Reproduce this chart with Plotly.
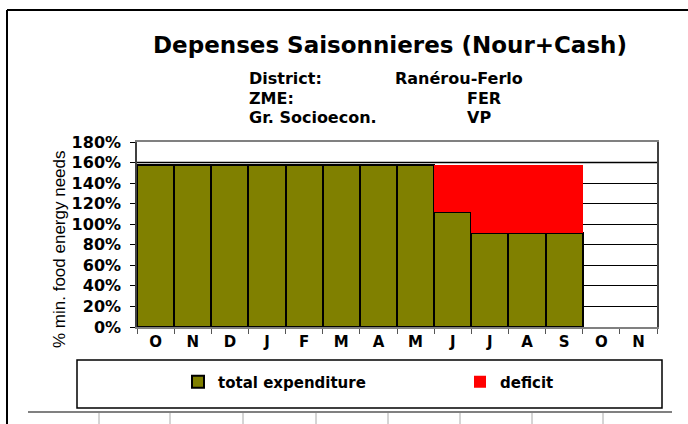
import plotly.graph_objects as go

months = ["O", "N", "D", "J", "F", "M", "A", "M", "J", "J", "A", "S", "O", "N"]
total_expenditure = [158, 158, 158, 158, 158, 158, 158, 158, 112, 91, 91, 91, None, None]
deficit = [0, 0, 0, 0, 0, 0, 0, 0, 46, 67, 67, 67, None, None]
y_ticks = [0, 20, 40, 60, 80, 100, 120, 140, 160, 180]

W, H = 688, 424
L, R, T, B = 137, 657, 142, 327
FONT = "DejaVu Sans, Liberation Sans, Arial, sans-serif"
FONT2 = "Liberation Sans, Arial, sans-serif"

def px(x):
    return (x - L) / (R - L)

def py(y):
    return (B - y) / (B - T)

xs = list(range(len(months)))

fig = go.Figure()
fig.add_trace(go.Bar(
    x=xs, y=total_expenditure, name="<b>total expenditure</b>", legend="legend", showlegend=True,
    marker=dict(color="#808000", line=dict(color="black", width=2)),
))
fig.add_trace(go.Bar(
    x=xs, y=deficit, name="<b>deficit</b>", legend="legend2", showlegend=True,
    marker=dict(color="#FF0000", line=dict(color="#FF0000", width=0)),
))

shapes = []
shapes.append(dict(type="line", xref="paper", yref="y", x0=0, x1=1, y0=160, y1=160,
                   line=dict(color="#808080", width=2), layer="below"))
shapes.append(dict(type="line", xref="paper", yref="paper", x0=px(7), x1=px(7), y0=py(10), y1=py(424),
                   line=dict(color="black", width=2)))
shapes.append(dict(type="line", xref="paper", yref="paper", x0=px(7), x1=px(688), y0=py(10), y1=py(10),
                   line=dict(color="black", width=2)))
shapes.append(dict(type="rect", xref="paper", yref="paper", x0=px(77), x1=px(662), y0=py(360), y1=py(408),
                   line=dict(color="black", width=1.5), fillcolor="rgba(0,0,0,0)"))
shapes.append(dict(type="line", xref="paper", yref="paper", x0=px(28), x1=px(672), y0=py(412), y1=py(412),
                   line=dict(color="#808080", width=2)))
for tx in [99, 170, 243, 316, 388, 460, 532, 603]:
    shapes.append(dict(type="line", xref="paper", yref="paper", x0=px(tx), x1=px(tx), y0=py(413), y1=py(424),
                       line=dict(color="#aaaaaa", width=1)))

annotations = []
def txt(s, x, y, size=16, xanchor="left"):
    annotations.append(dict(text="<b>" + s + "</b>", x=px(x), y=py(y), xref="paper", yref="paper",
                            showarrow=False, xanchor=xanchor, yanchor="middle",
                            font=dict(family=FONT, size=size, color="black")))

txt("District:", 247, 79)
txt("Ranérou-Ferlo", 393, 79)
txt("ZME:", 247, 98)
txt("FER", 465, 98)
txt("Gr. Socioecon.", 247, 117)
txt("VP", 465, 117)
annotations.append(dict(text="% min. food energy needs", x=px(59), y=py(249), xref="paper", yref="paper",
                        showarrow=False, textangle=-90, xanchor="center", yanchor="middle",
                        font=dict(family=FONT2, size=17, color="black")))

legend_common = dict(orientation="h", xanchor="left", yanchor="middle", bgcolor="rgba(0,0,0,0)",
                     itemwidth=30, font=dict(family=FONT, size=15, color="black"))

fig.update_layout(
    width=W, height=H,
    margin=dict(l=L, r=W - R, t=T, b=H - B, pad=0),
    paper_bgcolor="white", plot_bgcolor="white",
    barmode="stack", bargap=0, showlegend=True,
    title=dict(text="<b>Depenses Saisonnieres (Nour+Cash)</b>", x=390 / W, xanchor="center",
               y=1 - 45 / H, yanchor="middle", font=dict(family=FONT, size=23, color="black")),
    xaxis=dict(range=[-0.5, len(months) - 0.5], tickvals=xs, ticktext=["<b>" + m + "</b>" for m in months],
               ticks="", tickfont=dict(family=FONT, size=15, color="black"),
               showgrid=False, zeroline=False, showline=True, linecolor="#808080", linewidth=2, mirror=True,
               minor=dict(tickvals=[i - 0.5 for i in range(len(months) + 1)], ticks="outside",
                          ticklen=5, tickcolor="#555555", showgrid=False)),
    yaxis=dict(range=[0, 180], tickvals=y_ticks, ticktext=["<b>%d%%</b>" % v for v in y_ticks],
               ticks="outside", ticklen=5, tickcolor="black", ticklabelstandoff=6,
               tickfont=dict(family=FONT, size=16, color="black"),
               showgrid=True, gridcolor="black", gridwidth=1, zeroline=False,
               showline=True, linecolor="#404040", linewidth=1.5, mirror=True),
    legend=dict(x=px(178), y=py(382), **legend_common),
    legend2=dict(x=px(460), y=py(382), **legend_common),
    shapes=shapes, annotations=annotations,
)

fig.write_html("out.html", config={"displayModeBar": False},
               post_script="document.body.style.margin='0';")
